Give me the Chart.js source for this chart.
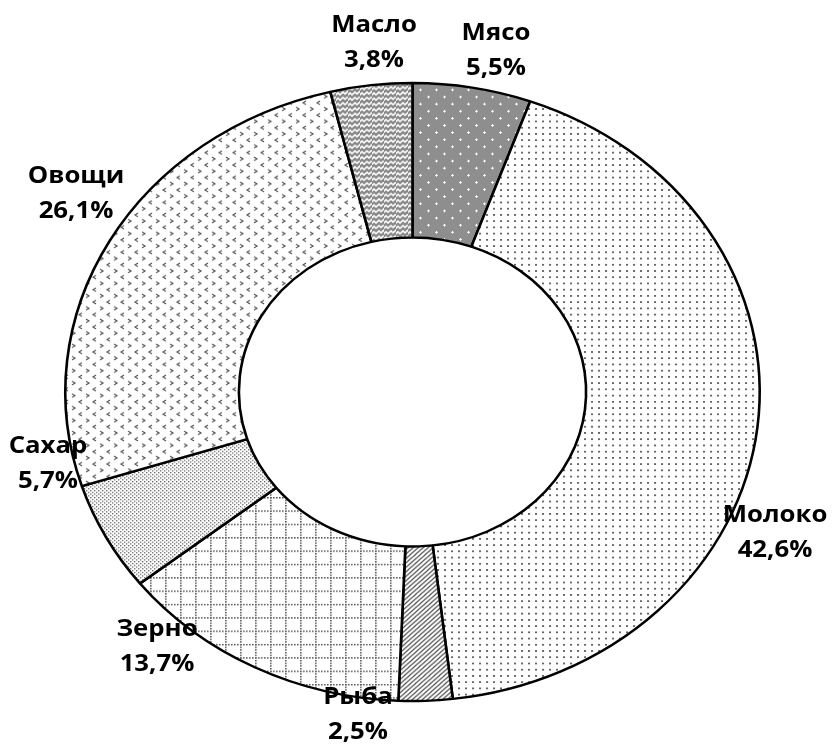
<!DOCTYPE html>
<html>
<head>
<meta charset="utf-8">
<script src="https://cdn.jsdelivr.net/npm/chart.js@4.4.1/dist/chart.umd.min.js"></script>
<style>
  body { margin: 0; background: #fff; }
  canvas { display: block; }
</style>
</head>
<body>
<canvas id="structure" width="835" height="745"></canvas>
<script>
// структура потребления, % (по часовой стрелке от верха)
const produits = ['Мясо', 'Молоко', 'Рыба', 'Зерно', 'Сахар', 'Овощи', 'Масло'];
const parts = [5.5, 42.6, 2.5, 13.7, 5.7, 26.1, 3.8];
// центр подписи для каждого сектора
const labelAnchors = [[496, 50], [775, 532], [358, 714], [157, 646], [48, 463], [76, 193], [374, 42]];

const ovalY = 0.89; // кольцо сплюснуто по вертикали

function tile(w, h, draw) {
  const c = document.createElement('canvas');
  c.width = w; c.height = h;
  const g = c.getContext('2d');
  g.fillStyle = '#fff';
  g.fillRect(0, 0, w, h);
  draw(g);
  return g.createPattern(c, 'repeat');
}

// штриховки секторов
const hatch = {
  viande: tile(16, 16, g => {
    g.fillStyle = '#8e8e8e';
    g.fillRect(0, 0, 16, 16);
    g.fillStyle = '#fff';
    [[4, 4], [12, 12]].forEach(([x, y]) => {
      g.fillRect(x - 1, y, 3, 1);
      g.fillRect(x, y - 1, 1, 3);
    });
  }),
  lait: tile(7, 7, g => {
    g.fillStyle = '#666';
    g.fillRect(3, 3, 2, 2);
  }),
  poisson: tile(5, 5, g => {
    g.strokeStyle = '#555';
    g.lineWidth = 1.3;
    g.beginPath();
    g.moveTo(-1, 6); g.lineTo(6, -1);
    g.moveTo(-1, 1); g.lineTo(1, -1);
    g.moveTo(4, 6); g.lineTo(6, 4);
    g.stroke();
  }),
  grain: tile(15, 15, g => {
    g.fillStyle = '#555';
    for (let i = 0; i < 15; i += 3) {
      g.fillRect(i, 0, 1.6, 1.6);
      g.fillRect(0, i, 1.6, 1.6);
    }
  }),
  sucre: tile(4, 4, g => {
    g.fillStyle = '#6a6a6a';
    g.fillRect(0, 0, 1.4, 1.4);
    g.fillRect(2, 2, 1.4, 1.4);
  }),
  legumes: tile(14, 14, g => {
    g.strokeStyle = '#555';
    g.lineWidth = 1.3;
    g.beginPath();
    g.moveTo(2, 2); g.lineTo(5, 4); g.lineTo(2, 6);
    g.moveTo(12, 9); g.lineTo(9, 11); g.lineTo(12, 13);
    g.stroke();
  }),
  huile: tile(12, 12, g => {
    g.fillStyle = '#8a8a8a';
    g.fillRect(0, 0, 12, 12);
    g.strokeStyle = '#fff';
    g.lineWidth = 1.6;
    g.beginPath();
    [3, 9].forEach(y => {
      g.moveTo(-1, y + 2); g.lineTo(2, y - 1); g.lineTo(4, y + 1);
      g.lineTo(7, y - 2); g.lineTo(9, y); g.lineTo(13, y - 4);
    });
    g.stroke();
  })
};

const fills = [hatch.viande, hatch.lait, hatch.poisson, hatch.grain, hatch.sucre, hatch.legumes, hatch.huile];

// сжатие кольца по вертикали вокруг центра
const oval = {
  id: 'oval',
  beforeDatasetsDraw(chart) {
    const a = chart.getDatasetMeta(0).data[0];
    const ctx = chart.ctx;
    ctx.save();
    ctx.translate(a.x, a.y);
    ctx.scale(1, ovalY);
    ctx.translate(-a.x, -a.y);
  },
  afterDatasetsDraw(chart) {
    chart.ctx.restore();
  }
};

// подписи: название и доля
const etiquettes = {
  id: 'etiquettes',
  afterDraw(chart) {
    const ctx = chart.ctx;
    ctx.save();
    ctx.fillStyle = '#000';
    ctx.font = 'bold 23px "Open Sans"';
    ctx.textAlign = 'center';
    ctx.textBaseline = 'middle';
    produits.forEach((p, i) => {
      const [x, y] = labelAnchors[i];
      const pct = parts[i].toFixed(1).replace('.', ',') + '%';
      [[p, y - 17], [pct, y + 18]].forEach(([t, ty]) => {
        ctx.save();
        ctx.translate(x, ty);
        ctx.scale(1.12, 1);
        ctx.fillText(t, 0, 0);
        ctx.restore();
      });
    });
    ctx.restore();
  }
};

const ctx = document.getElementById('structure').getContext('2d');
new Chart(ctx, {
  type: 'doughnut',
  data: {
    labels: produits,
    datasets: [{
      data: parts,
      backgroundColor: fills,
      borderColor: '#000',
      borderWidth: 2.6,
      clip: false
    }]
  },
  options: {
    responsive: false,
    animation: false,
    cutout: '50%',
    layout: { padding: { left: 64, right: 74, top: 43, bottom: 4 } },
    plugins: {
      legend: { display: false },
      tooltip: { enabled: false }
    }
  },
  plugins: [oval, etiquettes]
});
</script>
</body>
</html>
